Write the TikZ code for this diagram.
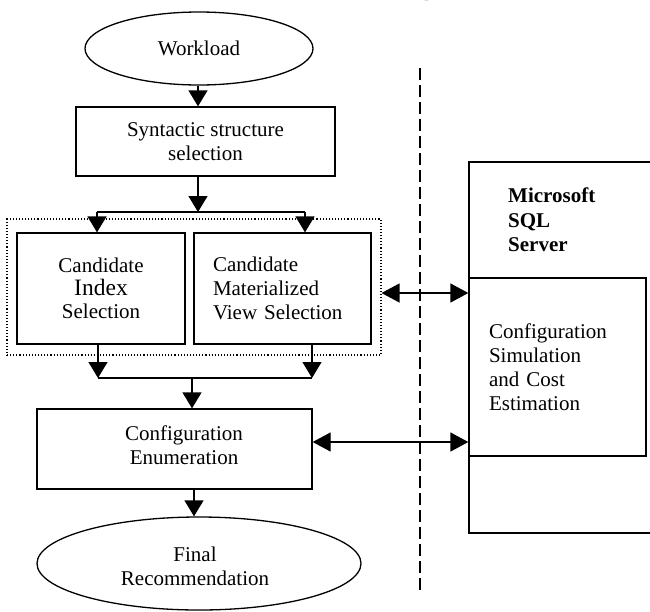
\documentclass[tikz,border=0pt]{standalone}
\usepackage{fontspec}
\setmainfont{Liberation Serif}
\usetikzlibrary{arrows.meta,shapes.geometric}
\begin{document}
\begin{tikzpicture}[x=1pt,y=-1pt,
  font=\fontsize{21}{24}\selectfont,
  box/.style={draw, line width=1.3pt, rectangle, inner sep=0pt, align=center},
  oval/.style={draw, line width=1.3pt, ellipse, inner sep=0pt, align=center},
  arr/.style={line width=1.3pt, -{Triangle[length=16pt,width=19pt]}},
  dbl/.style={line width=1.3pt, {Triangle[length=18pt,width=19pt]}-{Triangle[length=18pt,width=19pt]}},
  ln/.style={line width=1.3pt},
  grp/.style={draw, line width=1.1pt, dotted, rectangle, inner sep=0pt}]
\useasboundingbox (0,0) rectangle (650,611);

% cut-off title fragment at the top edge
\begin{scope}
\clip (0,0) rectangle (650,611);
\node[font=\bfseries\fontsize{28}{28}\selectfont, anchor=base, inner sep=0pt] (ttl) at (427,-5.5) {g};
\end{scope}

% left column
\node[oval, minimum width=228pt, minimum height=73pt] (work) at (199,48.5) {Workload};
\node[box, minimum width=259pt, minimum height=69pt] (syn) at (205.5,141.5) {Syntactic structure\\selection};
\node[grp, minimum width=374pt, minimum height=136pt] (group) at (194,287) {};
\node[box, minimum width=168pt, minimum height=111pt] (ci) at (101,288.5)
  {Candidate\\[-1pt]{\fontsize{23.5}{24}\selectfont Index}\\[-1pt]Selection};
\node[box, minimum width=177pt, minimum height=111pt, text width=139pt, align=left, inner xsep=19pt] (mv) at (282.5,288.5)
  {Candidate\\Materialized\\View Selection};
\node[box, minimum width=275pt, minimum height=80pt] (enum) at (174.5,449) {};
\node[inner sep=0pt, align=center] (enumlbl) at (184,445) {Configuration\\Enumeration};
\node[oval, minimum width=324pt, minimum height=93pt] (fin) at (199,563.5) {};
\node[inner sep=0pt, align=center] (finlbl) at (195,566) {Final\\Recommendation};

% right side: server box (open on the right)
\coordinate (srvtop) at (650,162);
\coordinate (srvbl) at (469,533);
\coordinate (srvbr) at (650,533);
\draw[ln] (srvtop) -| (srvbl) -- (srvbr);
\node[anchor=north west, align=left, inner sep=0pt, font=\bfseries\fontsize{21}{24.5}\selectfont] (srv) at (508,188)
  {Microsoft\\SQL\\Server};
\node[box, minimum width=177pt, minimum height=178pt, text width=137pt, align=left, inner xsep=20pt] (sim) at (557.5,367)
  {Configuration\\Simulation\\and Cost\\Estimation};

% dashed separator
\coordinate (dtop) at (420,68);
\coordinate (dbot) at (420,590);
\draw[line width=1.5pt, dash pattern=on 12pt off 5pt] (dtop) -- (dbot);

% helper coordinates
\coordinate (bt) at (198,212);
\coordinate (bl) at (97,212);
\coordinate (br) at (305,212);
\coordinate (cl) at (98,378);
\coordinate (cr) at (312,378);
\coordinate (cm) at (192,378);
\coordinate (fa) at (194,0);
\coordinate (a1) at (0,293);
\coordinate (a2) at (0,442);

% connectors
\draw[arr] (work.south -| bt) -- (bt |- syn.north);
\draw[arr] (syn.south -| bt) -- (bt);
\draw[ln] (bl) -- (br);
\draw[arr] (bl) -- (bl |- ci.north);
\draw[arr] (br) -- (br |- mv.north);
\draw[arr] (ci.south -| cl) -- (cl);
\draw[arr] (mv.south -| cr) -- (cr);
\draw[ln] (cl) -- (cr);
\draw[arr] (cm) -- (cm |- enum.north);
\draw[arr] (enum.south -| fa) -- (fa |- fin.north);
\draw[dbl] (group.east |- a1) -- (sim.west |- a1);
\draw[dbl] (enum.east |- a2) -- (sim.west |- a2);
\end{tikzpicture}
\end{document}
